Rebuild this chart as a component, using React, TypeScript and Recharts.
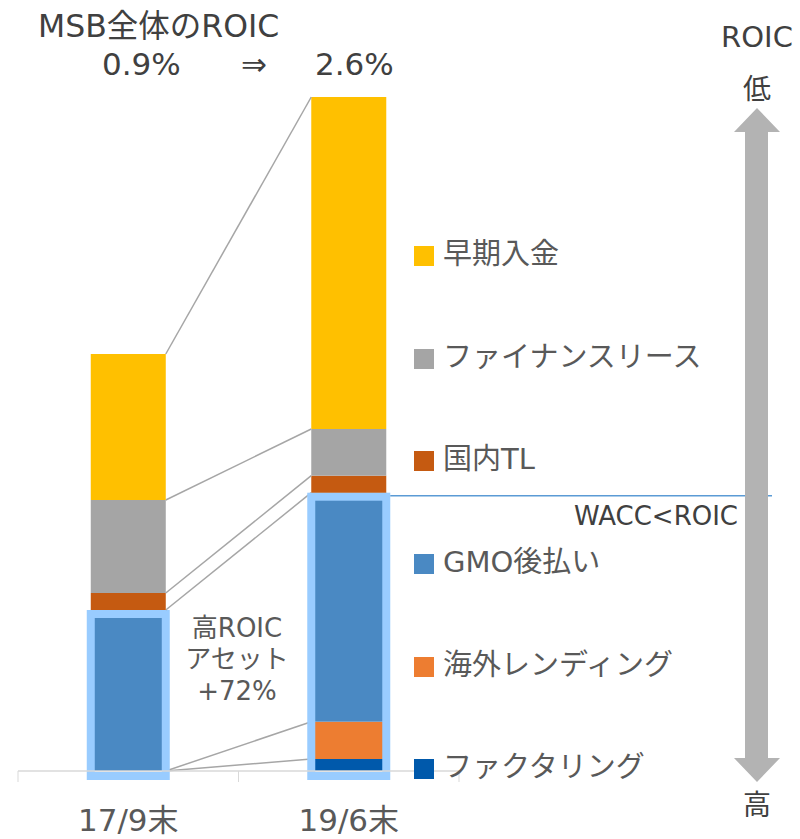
import React from "react";
import { BarChart, Bar, XAxis, YAxis, Legend } from "recharts";

const categories = ["17/9末", "19/6末"];
const factoring = [0, 1.2];
const overseas = [0, 3.73];
const gmo = [16.1, 22.9];
const domesticTL = [1.7, 1.7];
const lease = [9.3, 4.67];
const early = [14.6, 33.2];

const seriesKeys = ["factoring", "overseas", "gmo", "domesticTL", "lease", "early"];
const seriesNames = ["ファクタリング", "海外レンディング", "GMO後払い", "国内TL", "ファイナンスリース", "早期入金"];
const seriesColors = ["#0059AB", "#ED7D31", "#4A89C3", "#C55A11", "#A5A5A5", "#FFC000"];

const data = categories.map((name, i) => ({
  name,
  factoring: factoring[i],
  overseas: overseas[i],
  gmo: gmo[i],
  domesticTL: domesticTL[i],
  lease: lease[i],
  early: early[i],
}));

const FONT = "'DejaVu Sans', 'Noto Sans CJK JP', sans-serif";
const TEXT = "#595959";

// bar positions from the first category, used to draw the series lines
const barPos: Record<string, any[]> = {};

function makeShape(key: string, color: string, highlight: boolean) {
  return (props: any) => {
    const { x, y, width, height, index, background } = props;
    if (!barPos[key]) barPos[key] = [];
    barPos[key][index] = { x, y, width, height };
    const prev = index === 1 ? barPos[key][0] : null;
    const base = background ? background.y + background.height : y + height;
    return (
      <g>
        <rect x={x} y={y} width={width} height={Math.max(height, 0)} fill={color} />
        {prev && (
          <line x1={prev.x + prev.width} y1={prev.y} x2={x} y2={y} stroke="#A6A6A6" strokeWidth={1.5} />
        )}
        {highlight && (
          <rect x={x} y={y + 4} width={width} height={base + 5 - (y + 4)} fill="none" stroke="#99CCFF" strokeWidth={8} />
        )}
        {highlight && index === 1 && (
          <line x1={x + width + 4} y1={y + 3} x2={772} y2={y + 3} stroke="#5B9BD5" strokeWidth={1.5} />
        )}
      </g>
    );
  };
}

const CategoryTick = (props: any) => {
  const { x, y, payload, index } = props;
  const off = payload && payload.offset ? payload.offset : 110;
  return (
    <g>
      {index === 0 && <line x1={x - off} y1={y} x2={x - off} y2={y + 11} stroke="#D9D9D9" />}
      <line x1={x + off} y1={y} x2={x + off} y2={y + 11} stroke="#D9D9D9" />
      <text x={x} y={y + 60} textAnchor="middle" fill={TEXT} fontSize={31} fontFamily={FONT}>
        {payload.value}
      </text>
    </g>
  );
};

const renderLegend = (props: any) => {
  const payload = props.payload || [];
  const items = [...seriesNames].reverse().map((name) => {
    const p = payload.find((e: any) => e.value === name);
    return { value: name, color: p ? p.color : seriesColors[seriesNames.indexOf(name)] };
  });
  return (
    <div style={{ fontFamily: FONT }}>
      {items.map((it) => (
        <div key={it.value} style={{ display: "flex", alignItems: "center", height: 102.6 }}>
          <div style={{ width: 20, height: 20, background: it.color, marginRight: 9, marginTop: 10 }} />
          <span style={{ fontSize: 29, color: TEXT, whiteSpace: "nowrap" }}>{it.value}</span>
        </div>
      ))}
    </div>
  );
};

export default function App() {
  return (
    <div style={{ position: "absolute", left: 0, top: 0, width: 800, height: 839, background: "#fff" }}>
      <BarChart
        width={800}
        height={839}
        data={data}
        margin={{ top: 71, right: 341, left: 18, bottom: 0 }}
        barCategoryGap="33%"
      >
        <XAxis
          dataKey="name"
          height={68}
          axisLine={{ stroke: "#D9D9D9", strokeWidth: 1.5 }}
          tickLine={false}
          tickSize={0}
          tickMargin={0}
          tick={<CategoryTick />}
          interval={0}
        />
        <YAxis hide domain={[0, 70]} />
        <Legend
          layout="vertical"
          align="center"
          verticalAlign="middle"
          content={renderLegend}
          wrapperStyle={{ left: 414, top: 200, width: 380 }}
        />
        {seriesKeys.map((k, i) => (
          <Bar
            key={k}
            dataKey={k}
            name={seriesNames[i]}
            stackId="a"
            fill={seriesColors[i]}
            isAnimationActive={false}
            shape={makeShape(k, seriesColors[i], k === "gmo")}
          />
        ))}
      </BarChart>
      <svg
        width={800}
        height={839}
        style={{ position: "absolute", left: 0, top: 0, pointerEvents: "none" }}
        fontFamily={FONT}
      >
        <text x={38} y={37} fontSize={31.5} fill="#404040">MSB全体のROIC</text>
        <text x={102} y={75} fontSize={31} fill="#404040">0.9%</text>
        <text x={254} y={75} fontSize={31} fill="#404040" textAnchor="middle">⇒</text>
        <text x={315} y={75} fontSize={31} fill="#404040">2.6%</text>

        <text x={757} y={47} fontSize={29} fill="#404040" textAnchor="middle">ROIC</text>
        <text x={757} y={99} fontSize={28} fill="#404040" textAnchor="middle">低</text>
        <text x={757} y={815} fontSize={28} fill="#404040" textAnchor="middle">高</text>
        <polygon
          points="757,108 780,132 768,132 768,758 780,758 757,782 734,758 745,758 745,132 734,132"
          fill="#B3B3B3"
        />

        <text x={237} y={637} fontSize={26} fill={TEXT} textAnchor="middle">高ROIC</text>
        <text x={237} y={668} fontSize={26} fill={TEXT} textAnchor="middle">アセット</text>
        <text x={237} y={700} fontSize={26} fill={TEXT} textAnchor="middle">+72%</text>

        <text x={738} y={525} fontSize={26} fill="#404040" textAnchor="end">WACC&lt;ROIC</text>
      </svg>
    </div>
  );
}
